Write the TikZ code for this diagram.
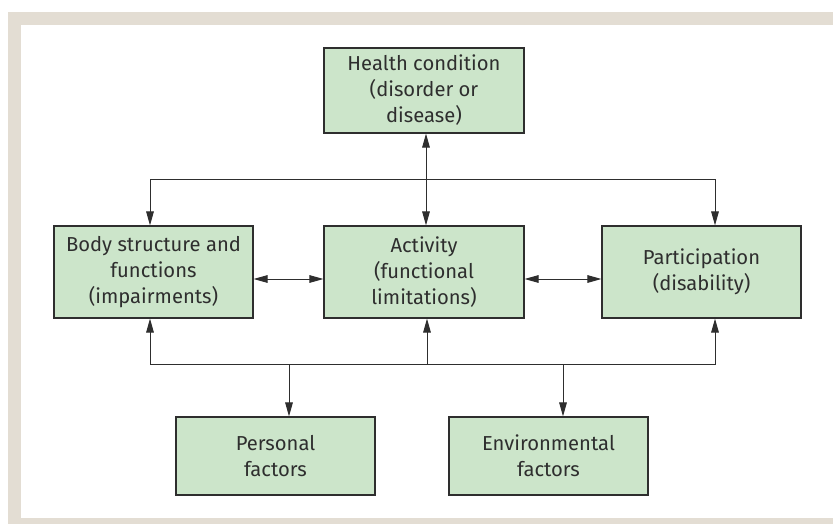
\documentclass[tikz,border=0pt]{standalone}
\usepackage{fontspec}
\setmainfont{Fira Sans}
\usetikzlibrary{arrows.meta}
\definecolor{framebg}{HTML}{E3DDD3}
\definecolor{boxfill}{HTML}{CCE5CA}
\definecolor{ink}{HTML}{2E2E2E}
\tikzset{
  icfbox/.style={draw=ink, fill=boxfill, line width=0.6pt, inner sep=0pt,
    minimum width=99.5pt, minimum height=46pt, align=center, text=ink,
    font=\fontsize{10.1}{13}\selectfont},
  link/.style={draw=ink, line width=0.5pt}
}
\begin{document}
\begin{tikzpicture}[x=0.5pt, y=-0.5pt, >={Triangle[length=7pt,width=3.8pt]}]
\useasboundingbox (0,0) rectangle (833,524);
\fill[framebg] (8,12) rectangle (833,524);
\fill[white] (21,25) rectangle (833,518);

\node[icfbox, minimum width=100pt, minimum height=42.5pt] (health) at (424,90.5) {Health condition\\(disorder or\\disease)};
\node[icfbox] (body) at (153.5,272) {Body structure and\\functions\\(impairments)};
\node[icfbox, minimum width=100pt] (activity) at (424,272) {Activity\\(functional\\limitations)};
\node[icfbox] (particip) at (701.5,272) {Participation\\(disability)};
\node[icfbox, minimum height=39pt] (personal) at (275.5,456) {Personal\\factors};
\node[icfbox, minimum height=39pt] (environ) at (548.5,456) {Environmental\\factors};

% top bus
\coordinate (tl) at (150,179);
\coordinate (tr) at (715,179);
\coordinate (hc) at (426,0);
\draw[link,<->] (hc |- health.south) -- (hc |- activity.north);
\draw[link,<->] (tl |- body.north) -- (tl) -- (tr) -- (tr |- particip.north);

% middle arrows
\coordinate (mid) at (0,279);
\draw[link,<->] (body.east |- mid) -- (activity.west |- mid);
\draw[link,<->] (activity.east |- mid) -- (particip.west |- mid);

% bottom bus
\coordinate (bl) at (150,364);
\coordinate (br) at (715,364);
\coordinate (bm) at (427,364);
\coordinate (bp) at (289,364);
\coordinate (be) at (563,364);
\draw[link,<->] (bl |- body.south) -- (bl) -- (br) -- (br |- particip.south);
\draw[link,->] (bm) -- (bm |- activity.south);
\draw[link,->] (bp) -- (bp |- personal.north);
\draw[link,->] (be) -- (be |- environ.north);
\end{tikzpicture}
\end{document}
